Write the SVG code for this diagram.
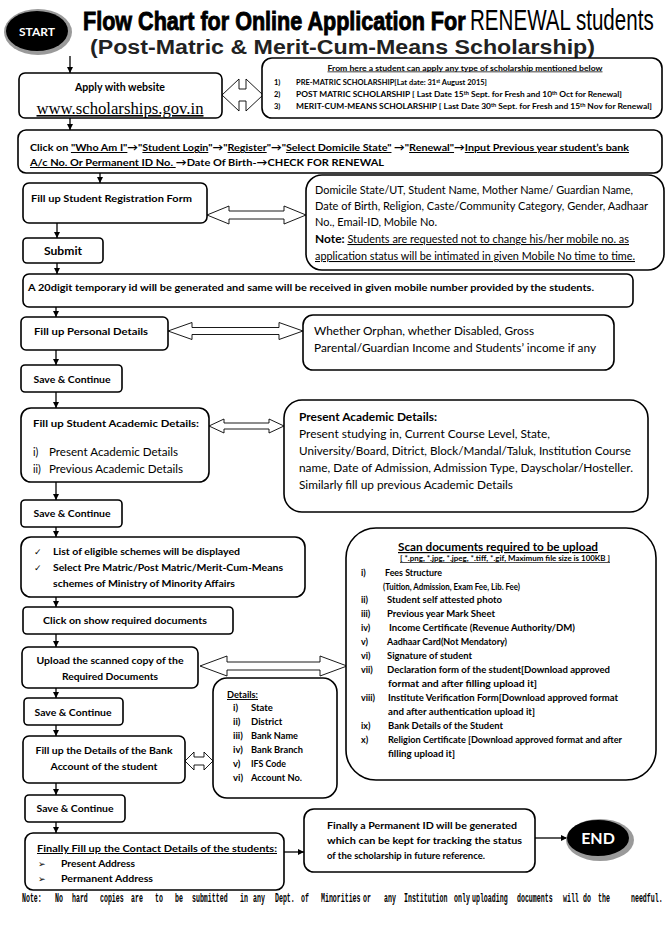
<svg xmlns="http://www.w3.org/2000/svg" width="672" height="950" viewBox="0 0 672 950">
<style>
.box{fill:#fff;stroke:#000;stroke-width:1.6}
.dbl{fill:#fff;stroke:#000;stroke-width:0.9;stroke-linejoin:miter}
.conn{stroke:#000;stroke-width:1.3;fill:none;marker-end:url(#ah)}
.b{font-family:Lato,"Liberation Sans","DejaVu Sans",sans-serif;font-weight:700;fill:#000}
.r{font-family:Lato,"Liberation Sans","DejaVu Sans",sans-serif;font-weight:400;fill:#000}
.u{text-decoration:underline}
.c{text-anchor:middle}
.sym{font-family:"DejaVu Sans",sans-serif}
.note{font-family:"Liberation Mono",monospace;font-weight:700;font-size:12px;fill:#000}
</style>
<defs>
<marker id="ah" viewBox="0 0 10 10" refX="10" refY="5" markerWidth="6" markerHeight="6" orient="auto" markerUnits="userSpaceOnUse">
<path d="M0,0 L10,5 L0,10 z" fill="#000"/>
</marker>
</defs>
<rect width="672" height="950" fill="#fff"/>

<g id="start">
<ellipse cx="38" cy="32" rx="34" ry="23" fill="#9a9a9a"/>
<ellipse cx="37" cy="31" rx="31" ry="20" fill="#000"/>
<text x="37" y="35.5" class="b c" font-size="12" style="fill:#fff">START</text>
</g>

<g id="title">
<text transform="translate(83,30) scale(0.83,1)" x="0" y="0" font-family="'Liberation Sans',Arial,sans-serif" font-weight="700" font-size="26" stroke="#000" stroke-width="0.9">Flow Chart for Online Application For</text>
<text transform="translate(470,30) scale(0.71,1)" x="0" y="0" font-family="'Liberation Sans',Arial,sans-serif" font-size="29">RENEWAL students</text>
<text x="90" y="54" font-family="'Liberation Sans',Arial,sans-serif" font-weight="700" font-size="20" fill="#222" textLength="505" lengthAdjust="spacingAndGlyphs">(Post-Matric &amp; Merit-Cum-Means Scholarship)</text>
</g>

<g id="connectors">
<line class="conn" x1="70" y1="56" x2="70" y2="73"/>
<line class="conn" x1="70" y1="118" x2="70" y2="130"/>
<line class="conn" x1="100" y1="173" x2="100" y2="183"/>
<line class="conn" x1="57" y1="223" x2="57" y2="238"/>
<line class="conn" x1="57" y1="263" x2="57" y2="274"/>
<line class="conn" x1="56" y1="307" x2="56" y2="317"/>
<line class="conn" x1="56" y1="350" x2="56" y2="365"/>
<line class="conn" x1="56" y1="392" x2="56" y2="408"/>
<line class="conn" x1="56" y1="482" x2="56" y2="500"/>
<line class="conn" x1="56" y1="527" x2="56" y2="537"/>
<line class="conn" x1="56" y1="597" x2="56" y2="607"/>
<line class="conn" x1="56" y1="634" x2="56" y2="647"/>
<line class="conn" x1="56" y1="688" x2="56" y2="698"/>
<line class="conn" x1="56" y1="725" x2="56" y2="736"/>
<line class="conn" x1="56" y1="783" x2="56" y2="795"/>
<line class="conn" x1="56" y1="822" x2="56" y2="833"/>
<line class="conn" x1="284" y1="852" x2="304" y2="852"/>
<line class="conn" x1="535" y1="838" x2="567" y2="838"/>
<polygon class="dbl" points="222,95 239,79 239,89 246,89 246,79 263,95 246,111 246,101 239,101 239,111"/>
<polygon class="dbl" points="207,215 229,206 229,211 284,211 284,206 306,215 284,224 284,219 229,219 229,224"/>
<polygon class="dbl" points="168,331 192,322.5 192,327.5 279,327.5 279,322.5 303,331 279,339.5 279,334.5 192,334.5 192,339.5"/>
<polygon class="dbl" points="209,426 224,419 224,423 269,423 269,419 284,426 269,433 269,429 224,429 224,433"/>
<polygon class="dbl" points="200,666 227,656 227,662 320,662 320,656 347,666 320,676 320,670 227,670 227,676"/>
<polygon class="dbl" points="185,761 194,752 194,757 204,757 204,752 213,761 204,770 204,765 194,765 194,770"/>
</g>

<g id="apply">
<rect class="box" x="19" y="73" width="203" height="45" rx="6"/>
<text x="120" y="91" class="b c" font-size="10.5" textLength="90" lengthAdjust="spacingAndGlyphs">Apply with website</text>
<text x="120" y="114" class="u c" font-family="'Liberation Serif','Times New Roman',serif" font-size="16" textLength="167" lengthAdjust="spacingAndGlyphs">www.scholarships.gov.in</text>
</g>

<g id="schemes">
<rect class="box" x="262" y="58" width="400" height="60" rx="10"/>
<text x="465" y="70.5" class="b c u" font-size="7.5" textLength="275" lengthAdjust="spacingAndGlyphs">From here a student can apply any type of scholarship mentioned below</text>
<text x="274" y="85" class="b" font-size="7.5">1)</text>
<text x="296" y="85" class="b" font-size="7.5">PRE-MATRIC SCHOLARSHIP[Lat date: 31<tspan dy="-2.5" font-size="5">st</tspan><tspan dy="2.5"> August 2015]</tspan></text>
<text x="274" y="97" class="b" font-size="7.5">2)</text>
<text x="296" y="97" class="b" font-size="7.5" textLength="326" lengthAdjust="spacingAndGlyphs">POST MATRIC SCHOLARSHIP [ Last Date 15<tspan dy="-2.5" font-size="5">th</tspan><tspan dy="2.5"> Sept. for Fresh and 10</tspan><tspan dy="-2.5" font-size="5">th</tspan><tspan dy="2.5"> Oct for Renewal]</tspan></text>
<text x="274" y="109" class="b" font-size="7.5">3)</text>
<text x="296" y="109" class="b" font-size="7.5" textLength="356" lengthAdjust="spacingAndGlyphs">MERIT-CUM-MEANS SCHOLARSHIP [ Last Date 30<tspan dy="-2.5" font-size="5">th</tspan><tspan dy="2.5"> Sept. for Fresh and 15</tspan><tspan dy="-2.5" font-size="5">th</tspan><tspan dy="2.5"> Nov for Renewal]</tspan></text>
</g>

<g id="click">
<rect class="box" x="18" y="130" width="644" height="43" rx="8"/>
<text x="30" y="151" class="b" font-size="10" textLength="599" lengthAdjust="spacingAndGlyphs">Click on <tspan class="u">"Who Am I"</tspan>→"<tspan class="u">Student Login</tspan>"→"<tspan class="u">Register</tspan>"→"<tspan class="u">Select Domicile State"</tspan> →"<tspan class="u">Renewal"</tspan>→<tspan class="u">Input Previous year student’s bank</tspan></text>
<text x="30" y="166" class="b" font-size="10" textLength="354" lengthAdjust="spacingAndGlyphs"><tspan class="u">A/c No. Or  Permanent ID No. </tspan>→Date Of Birth-→CHECK FOR RENEWAL</text>
</g>

<g id="regform">
<rect class="box" x="23" y="183" width="184" height="40" rx="6"/>
<text x="31" y="202" class="b" font-size="10" textLength="161" lengthAdjust="spacingAndGlyphs">Fill up Student Registration Form</text>
</g>

<g id="regdetails">
<rect class="box" x="306" y="175" width="358" height="95" rx="16"/>
<text x="315" y="194" class="r" font-size="10.5" textLength="318" lengthAdjust="spacingAndGlyphs">Domicile State/UT, Student Name, Mother Name/ Guardian Name,</text>
<text x="315" y="210" class="r" font-size="10.5" textLength="333" lengthAdjust="spacingAndGlyphs">Date of Birth, Religion, Caste/Community Category, Gender, Aadhaar</text>
<text x="315" y="226" class="r" font-size="10.5" textLength="122" lengthAdjust="spacingAndGlyphs">No., Email-ID, Mobile No.</text>
<text x="315" y="243" class="r" font-size="10.5" textLength="314" lengthAdjust="spacingAndGlyphs"><tspan class="b" font-size="11.5">Note:</tspan> <tspan class="u">Students are requested not to change his/her mobile no. as</tspan></text>
<text x="315" y="260" class="r u" font-size="10.5" textLength="320" lengthAdjust="spacingAndGlyphs">application status will be intimated in given Mobile No time to time.</text>
</g>

<g id="submit">
<rect class="box" x="23" y="238" width="80" height="25" rx="4"/>
<text x="63" y="255" class="b c" font-size="10.5" textLength="38" lengthAdjust="spacingAndGlyphs">Submit</text>
</g>

<g id="tempid">
<rect class="box" x="23" y="274" width="610" height="33" rx="6"/>
<text x="28" y="291" class="b" font-size="10" textLength="566" lengthAdjust="spacingAndGlyphs">A 20digit temporary id will be generated and same will be received in given mobile number provided by the students.</text>
</g>

<g id="personal">
<rect class="box" x="21" y="317" width="147" height="33" rx="5"/>
<text x="91" y="335" class="b c" font-size="9.5" textLength="114" lengthAdjust="spacingAndGlyphs">Fill up Personal Details</text>
</g>

<g id="personalinfo">
<rect class="box" x="303" y="315" width="311" height="55" rx="10"/>
<text x="314" y="335" class="r" font-size="10.5" textLength="220" lengthAdjust="spacingAndGlyphs">Whether Orphan, whether Disabled, Gross</text>
<text x="314" y="352" class="r" font-size="10.5" textLength="282" lengthAdjust="spacingAndGlyphs">Parental/Guardian Income and Students’ income if any</text>
</g>

<g id="save1">
<rect class="box" x="21" y="365" width="101" height="27" rx="4"/>
<text x="72" y="383" class="b c" font-size="10" textLength="77" lengthAdjust="spacingAndGlyphs">Save &amp; Continue</text>
</g>

<g id="academic">
<rect class="box" x="21" y="408" width="188" height="74" rx="10"/>
<text x="33" y="427" class="b" font-size="10" textLength="166" lengthAdjust="spacingAndGlyphs">Fill up Student Academic Details:</text>
<text x="33" y="456" class="r" font-size="10.5">i)</text>
<text x="49" y="456" class="r" font-size="10.5" textLength="129" lengthAdjust="spacingAndGlyphs">Present Academic Details</text>
<text x="33" y="473" class="r" font-size="10.5">ii)</text>
<text x="49" y="473" class="r" font-size="10.5" textLength="134" lengthAdjust="spacingAndGlyphs">Previous Academic Details</text>
</g>

<g id="academicinfo">
<rect class="box" x="284" y="400" width="364" height="112" rx="18"/>
<text x="299" y="421" class="b" font-size="10.5" textLength="138" lengthAdjust="spacingAndGlyphs">Present Academic Details:</text>
<text x="299" y="438" class="r" font-size="10.5" textLength="251" lengthAdjust="spacingAndGlyphs">Present studying in, Current Course Level, State,</text>
<text x="299" y="455" class="r" font-size="10.5" textLength="332" lengthAdjust="spacingAndGlyphs">University/Board, Ditrict, Block/Mandal/Taluk, Institution Course</text>
<text x="299" y="472" class="r" font-size="10.5" textLength="334" lengthAdjust="spacingAndGlyphs">name, Date of Admission, Admission Type, Dayscholar/Hosteller.</text>
<text x="299" y="489" class="r" font-size="10.5" textLength="214" lengthAdjust="spacingAndGlyphs">Similarly fill up previous Academic Details</text>
</g>

<g id="save2">
<rect class="box" x="21" y="500" width="101" height="27" rx="4"/>
<text x="72" y="517" class="b c" font-size="10" textLength="77" lengthAdjust="spacingAndGlyphs">Save &amp; Continue</text>
</g>

<g id="schemeslist">
<rect class="box" x="21" y="537" width="284" height="60" rx="10"/>
<text x="34" y="555" class="sym" font-size="9">✓</text>
<text x="53" y="555" class="b" font-size="10" textLength="187" lengthAdjust="spacingAndGlyphs">List of eligible schemes will be displayed</text>
<text x="34" y="571" class="sym" font-size="9">✓</text>
<text x="53" y="571" class="b" font-size="10" textLength="230" lengthAdjust="spacingAndGlyphs">Select Pre Matric/Post Matric/Merit-Cum-Means</text>
<text x="53" y="587" class="b" font-size="10" textLength="182" lengthAdjust="spacingAndGlyphs">schemes of Ministry of Minority Affairs</text>
</g>

<g id="showdocs">
<rect class="box" x="23" y="607" width="210" height="27" rx="4"/>
<text x="125" y="624" class="b c" font-size="10" textLength="164" lengthAdjust="spacingAndGlyphs">Click on show required documents</text>
</g>

<g id="upload">
<rect class="box" x="22" y="647" width="176" height="41" rx="6"/>
<text x="110" y="664" class="b c" font-size="10" textLength="147" lengthAdjust="spacingAndGlyphs">Upload the scanned copy of the</text>
<text x="110" y="680" class="b c" font-size="10" textLength="96" lengthAdjust="spacingAndGlyphs">Required Documents</text>
</g>

<g id="scandocs">
<rect class="box" x="346" y="528" width="310" height="252" rx="30"/>
<text x="498" y="551" class="b c u" font-size="12" textLength="200" lengthAdjust="spacingAndGlyphs">Scan documents required to be upload</text>
<text x="505" y="561" class="b c u" font-size="7" textLength="210" lengthAdjust="spacingAndGlyphs">[ *.png, *.jpg, *.jpeg, *.tiff, *.gif, Maximum file size is 100KB ]</text>
<g class="b" font-size="9">
<text x="361" y="576">i)</text><text x="385" y="576" textLength="57" lengthAdjust="spacingAndGlyphs">Fees Structure</text>
<text x="383" y="590" textLength="137" lengthAdjust="spacingAndGlyphs">(Tuition, Admission, Exam Fee, Lib. Fee)</text>
<text x="361" y="603">ii)</text><text x="387" y="603" textLength="115" lengthAdjust="spacingAndGlyphs">Student self attested photo</text>
<text x="361" y="617">iii)</text><text x="387" y="617" textLength="108" lengthAdjust="spacingAndGlyphs">Previous year Mark Sheet</text>
<text x="361" y="631">iv)</text><text x="389" y="631" textLength="186" lengthAdjust="spacingAndGlyphs">Income Certificate (Revenue Authority/DM)</text>
<text x="361" y="645">v)</text><text x="387" y="645" textLength="120" lengthAdjust="spacingAndGlyphs">Aadhaar Card(Not Mendatory)</text>
<text x="361" y="659">vi)</text><text x="387" y="659" textLength="85" lengthAdjust="spacingAndGlyphs">Signature of student</text>
<text x="361" y="673">vii)</text><text x="387" y="673" textLength="223" lengthAdjust="spacingAndGlyphs">Declaration form of the student[Download approved</text>
<text x="388" y="687" textLength="149" lengthAdjust="spacingAndGlyphs">format and after filling upload it]</text>
<text x="361" y="701">viii)</text><text x="388" y="701" textLength="230" lengthAdjust="spacingAndGlyphs">Institute Verification Form[Download approved format</text>
<text x="388" y="715" textLength="147" lengthAdjust="spacingAndGlyphs">and after authentication upload it]</text>
<text x="361" y="729">ix)</text><text x="388" y="729" textLength="115" lengthAdjust="spacingAndGlyphs">Bank Details of the Student</text>
<text x="361" y="743">x)</text><text x="388" y="743" textLength="234" lengthAdjust="spacingAndGlyphs">Religion Certificate [Download approved format and after</text>
<text x="388" y="757" textLength="67" lengthAdjust="spacingAndGlyphs">filling upload it]</text>
</g>
</g>

<g id="save3">
<rect class="box" x="24" y="698" width="99" height="27" rx="4"/>
<text x="73" y="716" class="b c" font-size="10" textLength="77" lengthAdjust="spacingAndGlyphs">Save &amp; Continue</text>
</g>

<g id="bankdetails">
<rect class="box" x="213" y="678" width="124" height="120" rx="14"/>
<g class="b" font-size="9.5">
<text x="227" y="698" class="u" textLength="31" lengthAdjust="spacingAndGlyphs">Details:</text>
<text x="233" y="711">i)</text><text x="251" y="711">State</text>
<text x="233" y="725">ii)</text><text x="251" y="725">District</text>
<text x="233" y="739">iii)</text><text x="251" y="739" textLength="47" lengthAdjust="spacingAndGlyphs">Bank Name</text>
<text x="233" y="753">iv)</text><text x="251" y="753" textLength="52" lengthAdjust="spacingAndGlyphs">Bank Branch</text>
<text x="233" y="767">v)</text><text x="251" y="767" textLength="35" lengthAdjust="spacingAndGlyphs">IFS Code</text>
<text x="233" y="781">vi)</text><text x="251" y="781" textLength="51" lengthAdjust="spacingAndGlyphs">Account No.</text>
</g>
</g>

<g id="bank">
<rect class="box" x="23" y="736" width="162" height="47" rx="6"/>
<text x="104" y="754" class="b c" font-size="10" textLength="137" lengthAdjust="spacingAndGlyphs">Fill up the Details of the Bank</text>
<text x="104" y="770" class="b c" font-size="10" textLength="107" lengthAdjust="spacingAndGlyphs">Account of the student</text>
</g>

<g id="save4">
<rect class="box" x="25" y="795" width="100" height="27" rx="4"/>
<text x="75" y="812" class="b c" font-size="10" textLength="77" lengthAdjust="spacingAndGlyphs">Save &amp; Continue</text>
</g>

<g id="contact">
<rect class="box" x="25" y="833" width="259" height="57" rx="8"/>
<text x="37" y="852" class="b u" font-size="10" textLength="240" lengthAdjust="spacingAndGlyphs">Finally Fill up the Contact Details of the students:</text>
<text x="38" y="867" class="sym" font-size="9">➢</text>
<text x="61" y="867" class="b" font-size="10" textLength="74" lengthAdjust="spacingAndGlyphs">Present Address</text>
<text x="38" y="882" class="sym" font-size="9">➢</text>
<text x="61" y="882" class="b" font-size="10" textLength="92" lengthAdjust="spacingAndGlyphs">Permanent Address</text>
</g>

<g id="permanent">
<rect class="box" x="304" y="809" width="231" height="63" rx="10"/>
<text x="327" y="829" class="b" font-size="10" textLength="190" lengthAdjust="spacingAndGlyphs">Finally a Permanent ID will be generated</text>
<text x="327" y="844" class="b" font-size="10" textLength="195" lengthAdjust="spacingAndGlyphs">which can be kept for tracking the status</text>
<text x="327" y="859" class="b" font-size="10" textLength="158" lengthAdjust="spacingAndGlyphs">of the scholarship in future reference.</text>
</g>

<g id="end">
<ellipse cx="600" cy="840" rx="34" ry="21" fill="#9a9a9a"/>
<ellipse cx="598" cy="838" rx="31" ry="18" fill="#000"/>
<text x="598" y="844" class="b c" font-size="16" style="fill:#fff">END</text>
</g>

<g id="footnote" class="note" transform="translate(0,902) scale(0.55,1)">
<text y="0"><tspan x="40">Note:</tspan><tspan x="100">No</tspan><tspan x="130.9">hard</tspan><tspan x="181.8">copies</tspan><tspan x="238.2">are</tspan><tspan x="281.8">to</tspan><tspan x="318.2">be</tspan><tspan x="349.1">submitted</tspan><tspan x="436.4">in</tspan><tspan x="460">any</tspan><tspan x="500">Dept.</tspan><tspan x="547.3">of</tspan><tspan x="583.6">Minorities</tspan><tspan x="660">or</tspan><tspan x="698.2">any</tspan><tspan x="734.5">Institution</tspan><tspan x="825.5">only</tspan><tspan x="858.2">uploading</tspan><tspan x="940">documents</tspan><tspan x="1023.6">will</tspan><tspan x="1060">do</tspan><tspan x="1087.3">the</tspan><tspan x="1147.3">needful.</tspan></text>
</g>
</svg>
